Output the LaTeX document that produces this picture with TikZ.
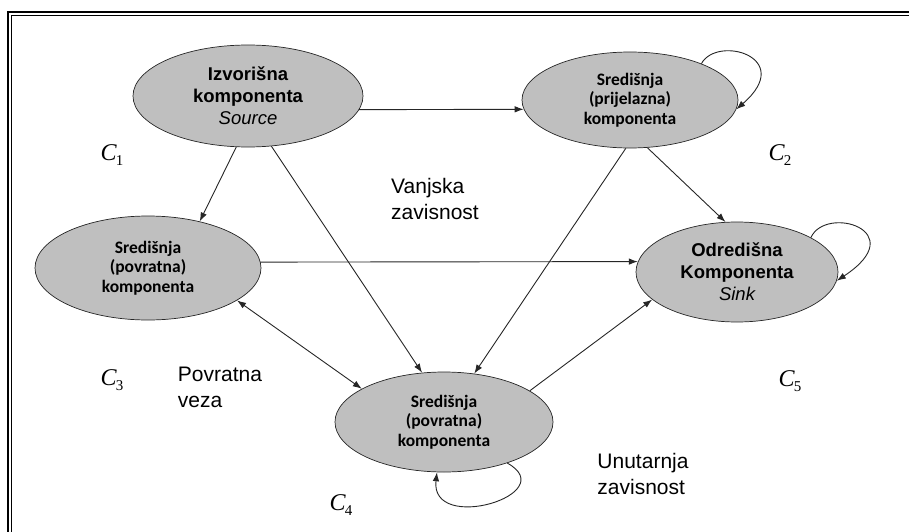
\documentclass[tikz,border=0pt]{standalone}
\usepackage{fontspec}
\setmainfont{Liberation Sans}
\newfontfamily\calfont{Carlito}
\newfontfamily\timesfont{Liberation Serif}
\usetikzlibrary{shapes.geometric,arrows.meta}
\newcommand\clab[1]{{\timesfont\fontsize{24}{24}\selectfont\textit{C}\kern-1pt\raisebox{-5pt}{\fontsize{15}{15}\selectfont #1}}}
\begin{document}
\begin{tikzpicture}[x=1pt,y=-1pt,
  comp/.style={ellipse, draw=black!85, line width=0.7pt, fill=black!25, inner sep=0pt, align=center},
  bigtxt/.style={font=\bfseries\fontsize{18.5}{22}\selectfont},
  caltxt/.style={font=\calfont\bfseries\fontsize{17.5}{19.5}\selectfont},
  arr/.style={-{Latex[length=9pt,width=6.5pt]}, line width=0.9pt, draw=black!85},
  darr/.style={{Latex[length=9pt,width=6.5pt]}-{Latex[length=9pt,width=6.5pt]}, line width=0.9pt, draw=black!85},
  lbl/.style={font=\fontsize{21}{26}\selectfont, align=left},
  frame/.style={line width=1.8pt, draw=black}]
\useasboundingbox (0,0) rectangle (909,532);
% frame
\draw[frame] (8,532) -- (8,12) -- (909,12);
\draw[frame] (11.5,532) -- (11.5,15.5) -- (909,15.5);
% components
\node[comp, bigtxt, minimum width=230pt, minimum height=102pt] (src) at (248,96)
  {Izvorišna\\komponenta\\{\mdseries\itshape Source}};
\node[comp, caltxt, minimum width=216pt, minimum height=96pt] (tr) at (630,100)
  {Središnja\\(prijelazna)\\komponenta};
\node[comp, caltxt, minimum width=226pt, minimum height=104pt] (fl) at (148,268)
  {Središnja\\(povratna)\\komponenta};
\node[comp, bigtxt, minimum width=202pt, minimum height=100pt] (snk) at (737,272)
  {Odredišna\\Komponenta\\{\mdseries\itshape Sink}};
\node[comp, caltxt, minimum width=218pt, minimum height=100pt] (fb) at (444,422)
  {Središnja\\(povratna)\\komponenta};
% connectors
\draw[arr] (src.-7) -- (tr.185);
\draw[arr] (src.-103) -- (fl.42);
\draw[arr] (src.-65) -- (fb.114);
\draw[arr] (tr.-95) -- (fb.58);
\draw[arr] (tr.-70) -- (snk.103);
\draw[arr] (fl.3) -- (snk.174.3);
\draw[darr] (fl.-20) -- (fb.158);
\draw[arr] (fb.20) -- (snk.-162);
% self loops
\draw[arr] (tr.27) .. controls +(16,-29) and +(60,-52) .. (tr.-5);
\draw[arr] (snk.25) .. controls +(15,-33) and +(76,-50) .. (snk.-5);
\draw[arr] (fb.-33) .. controls +(56,31) and +(-7,62) .. (fb.-98);
% labels
\node (c1) at (112,155) {\clab{1}};
\node (c2) at (780,155) {\clab{2}};
\node (c3) at (112,380) {\clab{3}};
\node (c4) at (341,505) {\clab{4}};
\node (c5) at (790,381) {\clab{5}};
\node[lbl] (vz) at (435,199) {Vanjska\\zavisnost};
\node[lbl] (pv) at (220,387) {Povratna\\veza};
\node[lbl] (uz) at (643,474) {Unutarnja\\zavisnost};
\end{tikzpicture}
\end{document}
